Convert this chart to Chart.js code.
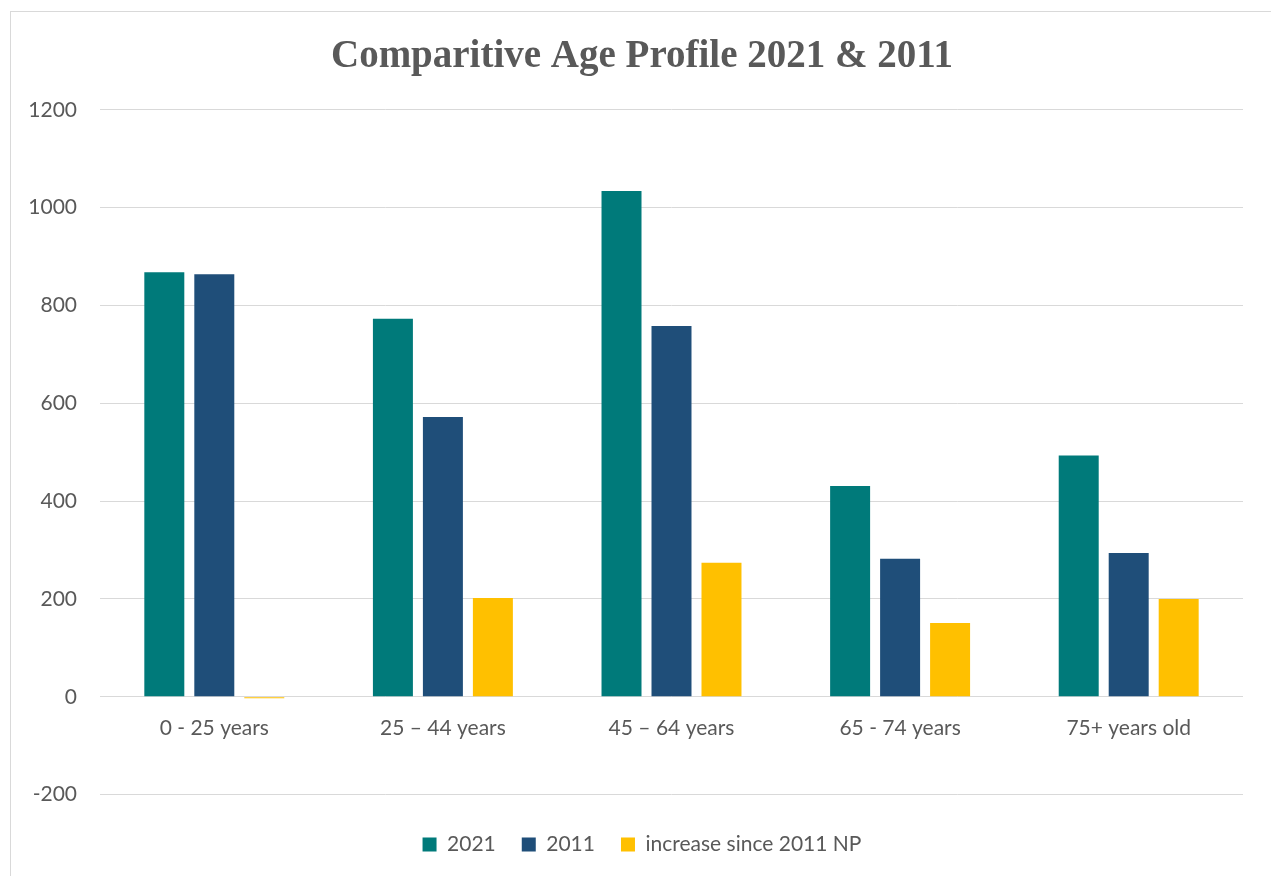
<!DOCTYPE html>
<html>
<head>
<meta charset="utf-8">
<script src="https://cdn.jsdelivr.net/npm/chart.js@4"></script>
<style>
  html, body { margin: 0; padding: 0; background: #ffffff; overflow: hidden; }
  #frame { position: absolute; left: 10px; top: 11px; width: 1300px; height: 900px; border: 1px solid #d9d9d9; }
  #wrap { position: absolute; left: 0; top: 0; width: 1271px; height: 876px; }
</style>
</head>
<body>
<div id="frame"></div>
<div id="wrap"><canvas id="ageChart" width="1271" height="876"></canvas></div>
<script>
// Age bands on the x axis
const categories = ['0 - 25 years', '25 \u2013 44 years', '45 \u2013 64 years', '65 - 74 years', '75+ years old'];

// Series
const values2021 = [868, 773, 1034, 431, 493];
const values2011 = [864, 572, 758, 282, 294];
const increaseSince2011 = [-3, 202, 274, 151, 200];

const yTicks = [-200, 0, 200, 400, 600, 800, 1000, 1200];

const textGrey = '#595959';
const gridGrey = '#d9d9d9';
const labelFont = { family: 'Lato, sans-serif', size: 21 };

const ctx = document.getElementById('ageChart').getContext('2d');

const ageChart = new Chart(ctx, {
    type: 'bar',
    data: {
        labels: categories,
        datasets: [
            { label: '2021', data: values2021, backgroundColor: '#007a7a' },
            { label: '2011', data: values2011, backgroundColor: '#1f4e79' },
            { label: 'increase since 2011 NP', data: increaseSince2011, backgroundColor: '#ffc000' }
        ]
    },
    options: {
        responsive: false,
        animation: false,
        categoryPercentage: 0.656,
        barPercentage: 0.8,
        layout: {
            padding: { top: 18, left: 26, right: 13, bottom: 11 }
        },
        plugins: {
            title: {
                display: true,
                text: 'Comparitive Age Profile 2021 & 2011',
                color: textGrey,
                font: { family: '"Liberation Serif", serif', size: 39, weight: 'bold' },
                padding: { top: 16, bottom: 29 }
            },
            legend: {
                display: true,
                position: 'bottom',
                title: {
                    display: true,
                    text: '',
                    font: { size: 2 },
                    padding: { top: 11, bottom: 0 }
                },
                labels: {
                    color: textGrey,
                    font: labelFont,
                    boxWidth: 14,
                    boxHeight: 14,
                    padding: 26
                }
            },
            tooltip: { enabled: false }
        },
        scales: {
            x: {
                position: { y: 0 },
                grid: { display: false, drawTicks: false },
                border: { display: false },
                ticks: {
                    color: textGrey,
                    font: labelFont,
                    padding: 19
                }
            },
            y: {
                min: -200,
                max: 1200,
                afterBuildTicks: axis => {
                    axis.ticks = yTicks.map(v => ({ value: v }));
                },
                afterFit: axis => {
                    axis.width = 74;
                },
                grid: { color: gridGrey, lineWidth: 1, drawTicks: false },
                border: { display: false },
                ticks: {
                    color: textGrey,
                    font: labelFont,
                    padding: 23,
                    callback: value => String(value)
                }
            },
            // empty spacer on the right so the title sits where the reference has it
            yRight: {
                position: 'right',
                display: true,
                grid: { display: false, drawTicks: false },
                border: { display: false },
                ticks: { display: false },
                afterFit: axis => {
                    axis.width = 15;
                }
            }
        }
    }
});
</script>
</body>
</html>
